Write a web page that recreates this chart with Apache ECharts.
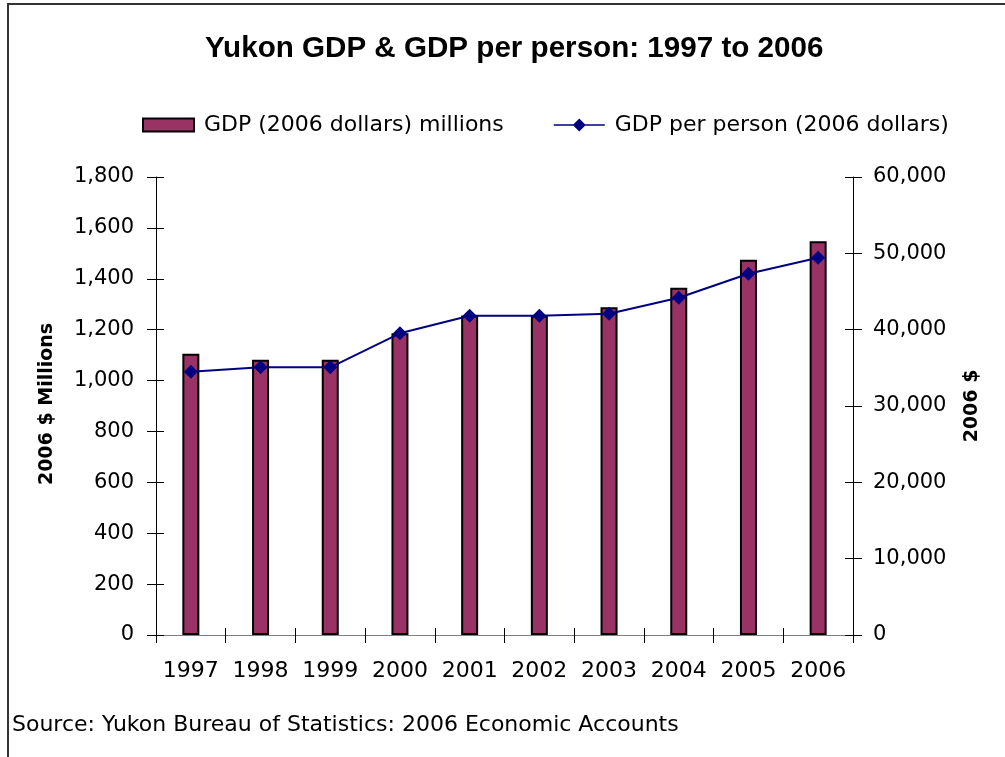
<!DOCTYPE html>
<html>
<head>
<meta charset="utf-8">
<title>Yukon GDP & GDP per person: 1997 to 2006</title>
<script src="https://cdn.jsdelivr.net/npm/echarts@6/dist/echarts.min.js"></script>
<style>
  html, body { margin: 0; padding: 0; background: #ffffff; }
  #chart { width: 1005px; height: 757px; }
</style>
</head>
<body>
<div id="chart"></div>
<script>
// Years on the category axis
const years = ['1997', '1998', '1999', '2000', '2001', '2002', '2003', '2004', '2005', '2006'];
// GDP in millions of 2006 dollars (left axis)
const gdpMillions = [1105, 1082, 1082, 1186, 1256, 1255, 1288, 1365, 1475, 1547];
// GDP per person in 2006 dollars (right axis)
const gdpPerPerson = [34500, 35070, 35070, 39520, 41830, 41830, 42090, 44190, 47330, 49430];

const seriesNames = ['GDP (2006 dollars) millions', 'GDP per person (2006 dollars)'];
const titleText = 'Yukon GDP & GDP per person: 1997 to 2006';
const leftAxisName = '2006 $ Millions';
const rightAxisName = '2006 $';
const sourceText = 'Source: Yukon Bureau of Statistics: 2006 Economic Accounts';

const FONT = 'DejaVu Sans';
const BAR_COLOR = '#993366';
const LINE_COLOR = '#000080';

// Legend glyph for the line series: a thin rule with a diamond in the middle
const LINE_ICON = 'path://M0,5.75 H19.75 L25.5,0 L31.25,5.75 H51 V7.25 H31.25 L25.5,13 L19.75,7.25 H0 Z';

const chart = echarts.init(document.getElementById('chart'), null, { renderer: 'canvas' });

const numFmt = v => v.toLocaleString('en-US');

const plainAxisText = { color: '#000', fontFamily: FONT, fontSize: 21 };

const option = {
  animation: false,
  backgroundColor: '#ffffff',
  title: {
    text: titleText,
    left: 205,
    top: 34,
    padding: 0,
    textStyle: { fontFamily: 'Liberation Sans', fontWeight: 'bold', fontSize: 29.6, color: '#000' }
  },
  legend: {
    left: 142,
    top: 114,
    padding: 0,
    itemWidth: 51,
    itemHeight: 13,
    itemGap: 50,
    textStyle: { fontFamily: FONT, fontSize: 22, color: '#000', padding: [0, 0, 0, 5] },
    data: [
      { name: seriesNames[0], icon: 'rect' },
      { name: seriesNames[1], icon: LINE_ICON, itemStyle: { color: LINE_COLOR, borderWidth: 0 } }
    ]
  },
  grid: { left: 156, right: 152, top: 177, bottom: 122, containLabel: false },
  xAxis: [
    {
      type: 'category',
      data: years,
      position: 'bottom',
      axisLine: { show: true, lineStyle: { color: '#000', width: 1 } },
      axisTick: { show: true, interval: 0, length: 8, lineStyle: { color: '#000' } },
      axisLabel: Object.assign({}, plainAxisText, { margin: 25, fontSize: 22, interval: 0, hideOverlap: false }),
      splitLine: { show: false }
    },
    {
      type: 'category',
      data: years,
      position: 'bottom',
      axisLine: { show: false },
      axisTick: { show: true, interval: 0, inside: true, length: 7, lineStyle: { color: '#000' } },
      axisLabel: { show: false },
      splitLine: { show: false }
    },
    {
      type: 'category',
      data: years,
      position: 'top',
      axisLine: { show: true, lineStyle: { color: '#808080', width: 1 } },
      axisTick: { show: false },
      axisLabel: { show: false },
      splitLine: { show: false }
    }
  ],
  yAxis: [
    {
      type: 'value',
      position: 'left',
      min: 0, max: 1800, interval: 200,
      axisLine: { show: true, lineStyle: { color: '#000', width: 1 } },
      axisTick: { show: true, length: 9, lineStyle: { color: '#000' } },
      axisLabel: Object.assign({ margin: 22, formatter: numFmt }, plainAxisText),
      splitLine: { show: false }
    },
    {
      type: 'value',
      position: 'right',
      min: 0, max: 60000, interval: 10000,
      axisLine: { show: true, lineStyle: { color: '#000', width: 1 } },
      axisTick: { show: true, length: 9, lineStyle: { color: '#000' } },
      axisLabel: Object.assign({ margin: 20, formatter: numFmt }, plainAxisText),
      splitLine: { show: false }
    },
    {
      type: 'value',
      position: 'left',
      min: 0, max: 1800, interval: 200,
      axisLine: { show: false },
      axisTick: { show: true, inside: true, length: 8, lineStyle: { color: '#000' } },
      axisLabel: { show: false },
      splitLine: { show: false }
    },
    {
      type: 'value',
      position: 'right',
      min: 0, max: 60000, interval: 10000,
      axisLine: { show: false },
      axisTick: { show: true, inside: true, length: 8, lineStyle: { color: '#000' } },
      axisLabel: { show: false },
      splitLine: { show: false }
    }
  ],
  series: [
    {
      name: seriesNames[0],
      type: 'bar',
      xAxisIndex: 0,
      yAxisIndex: 0,
      data: gdpMillions,
      barWidth: 17,
      itemStyle: { color: BAR_COLOR, borderColor: '#000', borderWidth: 2 },
      z: 2
    },
    {
      name: seriesNames[1],
      type: 'line',
      xAxisIndex: 0,
      yAxisIndex: 1,
      data: gdpPerPerson,
      symbol: 'diamond',
      symbolSize: 14,
      showAllSymbol: true,
      lineStyle: { color: LINE_COLOR, width: 2 },
      itemStyle: { color: LINE_COLOR },
      z: 3
    }
  ],
  graphic: [
    {
      type: 'rect',
      silent: true,
      shape: { x: 8, y: 4, width: 1100, height: 900 },
      style: { fill: 'none', stroke: '#333', lineWidth: 2 },
      z: 0
    },
    {
      type: 'text',
      x: 47, y: 404,
      rotation: Math.PI / 2,
      style: {
        text: leftAxisName,
        font: 'bold 19px "DejaVu Sans"',
        fill: '#000',
        align: 'center',
        verticalAlign: 'middle'
      }
    },
    {
      type: 'text',
      x: 972, y: 406,
      rotation: Math.PI / 2,
      style: {
        text: rightAxisName,
        font: 'bold 19px "DejaVu Sans"',
        fill: '#000',
        align: 'center',
        verticalAlign: 'middle'
      }
    },
    {
      type: 'text',
      x: 12, y: 725,
      style: {
        text: sourceText,
        font: '22px "DejaVu Sans"',
        fill: '#000',
        align: 'left',
        verticalAlign: 'middle'
      }
    }
  ]
};

chart.setOption(option);
</script>
</body>
</html>
